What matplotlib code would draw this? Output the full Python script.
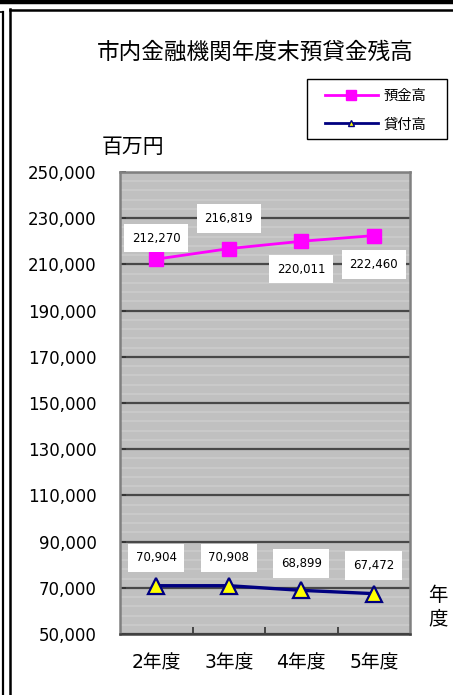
import matplotlib
matplotlib.use("Agg")
import matplotlib.pyplot as plt
from matplotlib.lines import Line2D
from matplotlib.patches import Rectangle
from matplotlib.ticker import FuncFormatter, MultipleLocator, FixedLocator

plt.rcParams['font.family'] = ['DejaVu Sans', 'Noto Sans CJK JP']

years = ["2年度", "3年度", "4年度", "5年度"]
deposits = [212270, 216819, 220011, 222460]   # 預金高
loans = [70904, 70908, 68899, 67472]          # 貸付高
deposit_label_offsets = [21, 30, -28, -29]    # pixels above (+) / below (-) the point
loan_label_offsets = [28, 28, 27, 28]

W, H = 453, 695
fig = plt.figure(figsize=(W / 100, H / 100), dpi=100)
ax = fig.add_axes([120 / W, 1 - 634 / H, 290 / W, 462 / H])

x = list(range(len(years)))

ax.set_facecolor('#c0c0c0')
ax.set_xlim(-0.5, len(years) - 0.5)
ax.set_ylim(50000, 250000)
ax.yaxis.set_major_locator(MultipleLocator(20000, offset=10000))
ax.yaxis.set_minor_locator(MultipleLocator(4000, offset=2000))
ax.yaxis.set_major_formatter(FuncFormatter(lambda v, p: f"{int(v):,}"))
ax.grid(which='minor', axis='y', color='#cbcbcb', lw=1.2, zorder=0)
ax.grid(which='major', axis='y', color='#484848', lw=1.6, zorder=1)
ax.set_axisbelow(True)

ax.set_xticks(x)
ax.set_xticklabels(years, fontsize=13.5)
ax.xaxis.set_minor_locator(FixedLocator([i + 0.5 for i in x[:-1]]))
ax.tick_params(axis='x', which='major', length=0, pad=14)
ax.tick_params(axis='x', which='minor', direction='in', length=5, width=1.2, color='#303030')
ax.tick_params(axis='y', which='major', direction='in', length=4, width=1.2,
               color='#303030', pad=17, labelsize=12)
ax.tick_params(axis='y', which='minor', length=0)

for s in ax.spines.values():
    s.set_color('#808080')
    s.set_linewidth(1.8)
ax.spines['bottom'].set_color('#404040')

ax.plot(x, deposits, color='#ff00ff', lw=2, marker='s', markersize=10,
        markerfacecolor='#ff00ff', markeredgecolor='#ff00ff', zorder=3)
ax.plot(x, loans, color='#000080', lw=2.4, marker='^', markersize=11,
        markerfacecolor='#ffff00', markeredgecolor='#000080', markeredgewidth=1.6, zorder=3)

box = dict(boxstyle='square,pad=0.65', facecolor='white', edgecolor='none')
for xi, v, off in zip(x, deposits, deposit_label_offsets):
    ax.annotate(f"{v:,}", (xi, v), xytext=(0, off), textcoords='offset pixels',
                ha='center', va='center', fontsize=8.5, bbox=box, zorder=4)
for xi, v, off in zip(x, loans, loan_label_offsets):
    ax.annotate(f"{v:,}", (xi, v), xytext=(0, off), textcoords='offset pixels',
                ha='center', va='center', fontsize=8.5, bbox=box, zorder=4)

# legend with a hand drawn frame
fig.add_artist(Rectangle((307 / W, 1 - 139 / H), 140 / W, 60 / H, transform=fig.transFigure,
                         facecolor='white', edgecolor='black', lw=1.0))
handles = [
    Line2D([], [], color='#ff00ff', lw=2, marker='s', markersize=7,
           markerfacecolor='#ff00ff', markeredgecolor='#ff00ff'),
    Line2D([], [], color='#000080', lw=2, marker='^', markersize=5,
           markerfacecolor='#ffff00', markeredgecolor='#000080'),
]
fig.legend(handles, ["預金高", "貸付高"], loc='upper left',
           bbox_to_anchor=(325 / W, 1 - 89 / H), fontsize=10.3, frameon=False,
           handlelength=3.7, labelspacing=1.0, borderpad=0, borderaxespad=0,
           handletextpad=0.4)

fig.text(255 / W, 1 - 52 / H, "市内金融機関年度末預貸金残高", ha='center', va='center', fontsize=16.3)
fig.text(133 / W, 1 - 147 / H, "百万円", ha='center', va='center', fontsize=15)
fig.text(438 / W, 1 - 607 / H, "年\n度", ha='center', va='center', fontsize=14, linespacing=1.3)

# page frame lines
def fline(x0, y0, x1, y1, lw):
    fig.add_artist(Line2D([x0 / W, x1 / W], [1 - y0 / H, 1 - y1 / H],
                          transform=fig.transFigure, color='black', lw=lw))

fline(0, 2, W, 2, 3.2)
fline(9.5, 10, W, 10, 1.8)
fline(10, 9, 10, H, 1.8)
fline(2.5, 12, 2.5, H, 1.6)
fline(0, 12, 3, 12, 1.2)

fig.savefig("out.png", dpi=100)
